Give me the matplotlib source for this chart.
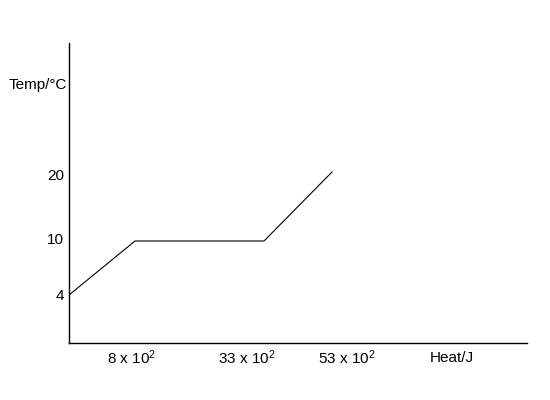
import numpy as np
import matplotlib
matplotlib.use("Agg")
import matplotlib.pyplot as plt

plt.rcParams['font.family'] = ['Liberation Sans', 'DejaVu Sans']
plt.rcParams['mathtext.default'] = 'regular'

# data (heat in J, temperature in degC)
heat = [0, 800, 3300, 5300]
temp = [4, 10, 10, 20]
x_tick_labels = ["8 x 10$^{2}$", "33 x 10$^{2}$", "53 x 10$^{2}$"]
y_ticks = [4, 10, 20]
x_label = "Heat/J"
y_label = "Temp/°C"

# schematic (non-uniform) axis scales, as in the reference drawing
xk_data = [0, 800, 3300, 5300, 9000]
xk_pos = [0, 66, 195, 263, 458]
yk_data = [0, 4, 10, 20, 40]
yk_pos = [0, 48, 102, 171, 300]

def fx(v):
    return np.interp(v, xk_data, xk_pos)
def ix(v):
    return np.interp(v, xk_pos, xk_data)
def fy(v):
    return np.interp(v, yk_data, yk_pos)
def iy(v):
    return np.interp(v, yk_pos, yk_data)

fig = plt.figure(figsize=(5.5, 4), dpi=100)
ax = fig.add_axes([69/550, 1-343/400, 458/550, 300/400])
ax.set_xscale('function', functions=(fx, ix))
ax.set_yscale('function', functions=(fy, iy))
ax.set_xlim(0, 9000)
ax.set_ylim(0, 40)

ax.plot(heat, temp, color='black', linewidth=0.8)

for s in ['top', 'right']:
    ax.spines[s].set_visible(False)
for s in ['left', 'bottom']:
    ax.spines[s].set_linewidth(1.0)

ax.set_xticks([])
ax.set_yticks([])

fs = 11
# y labels placed left of the axis
y_label_px = [47, 103, 167]
for py, t in zip(y_label_px, y_ticks):
    ax.text(-5/458, py/300, str(t), transform=ax.transAxes, ha='right', va='center', fontsize=fs)
# x labels placed under the axis
label_px = [63, 178, 278]
for px, lab in zip(label_px, x_tick_labels):
    ax.text(px/458, -15/300, lab, transform=ax.transAxes, ha='center', va='center', fontsize=fs)
ax.text(383/458, -15/300, x_label, transform=ax.transAxes, ha='center', va='center', fontsize=fs)
ax.text(-2/458, 258/300, y_label, transform=ax.transAxes, ha='right', va='center', fontsize=fs)

fig.savefig("out.png", dpi=100)
